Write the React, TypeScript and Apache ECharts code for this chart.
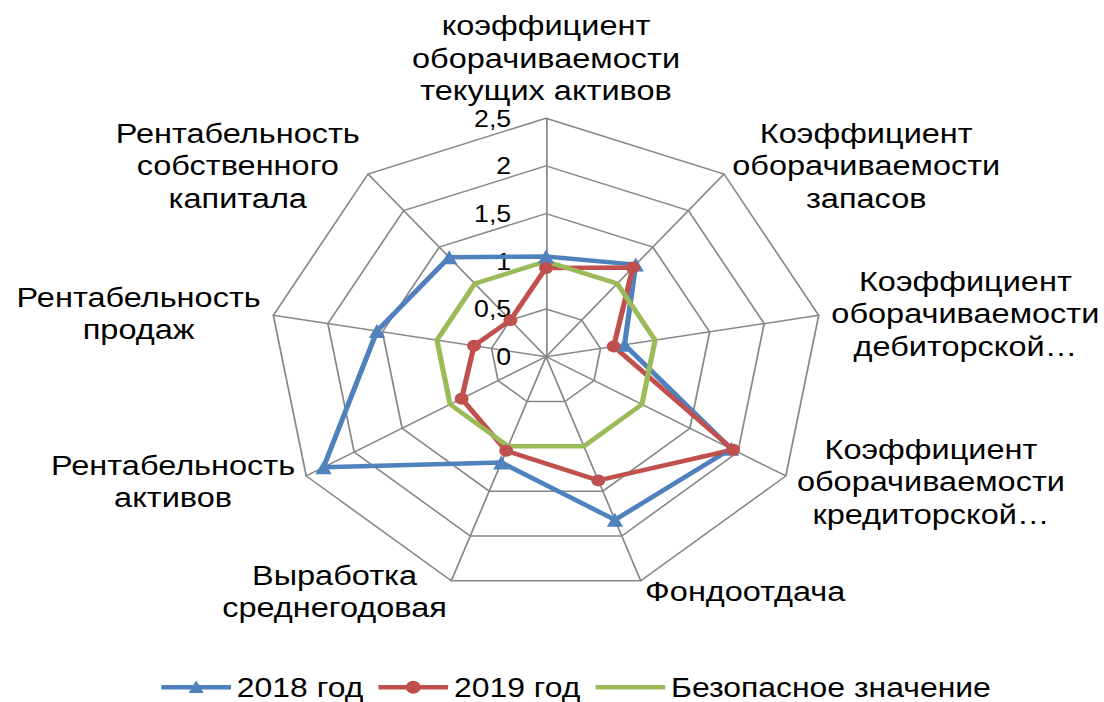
import React, { useEffect, useRef } from 'react';
import * as echarts from 'echarts';

// Categories in clockwise order starting at the top
const categories = [
  'коэффициент\nоборачиваемости\nтекущих активов',
  'Коэффициент\nоборачиваемости\nзапасов',
  'Коэффициент\nоборачиваемости\nдебиторской…',
  'Коэффициент\nоборачиваемости\nкредиторской…',
  'Фондоотдача',
  'Выработка\nсреднегодовая',
  'Рентабельность\nактивов',
  'Рентабельность\nпродаж',
  'Рентабельность\nсобственного\nкапитала',
];
const values2018 = [1.05, 1.26, 0.72, 1.93, 1.82, 1.18, 2.32, 1.55, 1.36];
const values2019 = [0.93, 1.22, 0.62, 1.95, 1.38, 1.05, 0.88, 0.66, 0.5];
const valuesSafe = [1, 1, 1, 1, 1, 1, 1, 1, 1];
const seriesNames = ['2018 год', '2019 год', 'Безопасное значение'];
const seriesColors = ['#4F81BD', '#C0504D', '#9BBB59'];
const seriesSymbols = ['triangle', 'circle', 'none'];
const axisMax = 2.5;
const tickLabels = ['0', '0,5', '1', '1,5', '2', '2,5'];

const SX = 1.161;
const W = 1104 / SX;
const H = 702;
const FONT = '"Liberation Sans", Arial, sans-serif';

// Legend icons: a line with the series marker in the middle (60 x 14 box)
const CORNERS = 'M0,0 L0.05,0 L0,0.05 Z M60,14 L59.95,14 L60,13.95 Z ';
const LINE = 'M0,5 L60,5 L60,9.5 L0,9.5 Z ';
const legendIcons = [
  'path://' + CORNERS + LINE + 'M30,0.5 L36.5,13 L23.5,13 Z',
  'path://' + CORNERS + LINE + 'M36.5,7.25 A6.5,6.5 0 1,1 23.5,7.25 A6.5,6.5 0 1,1 36.5,7.25 Z',
  'path://' + CORNERS + LINE,
];

// ECharts places radar indicators counter-clockwise; reorder to get clockwise
const ccw = <T,>(arr: T[]): T[] => [arr[0], ...arr.slice(1).reverse()];

export default function App() {
  const ref = useRef<HTMLDivElement>(null);
  useEffect(() => {
    if (!ref.current) return;
    const chart = echarts.init(ref.current, undefined, { renderer: 'svg' });
    const indicator = ccw(categories).map((name, i) => {
      const ind: any = { name, min: 0, max: axisMax };
      if (i === 0) {
        ind.axisLabel = {
          show: true,
          margin: 30,
          fontSize: 23,
          color: '#000',
          fontFamily: FONT,
          formatter: (v: number) => tickLabels[Math.round(v / (axisMax / 5))] ?? String(v),
        };
      }
      return ind;
    });
    const allValues = [values2018, values2019, valuesSafe];
    chart.setOption({
      animation: false,
      legend: {
        left: 134,
        top: 668,
        padding: 5,
        itemWidth: 60,
        itemHeight: 14,
        itemGap: 13,
        textStyle: { fontSize: 27.5, fontFamily: FONT, color: '#000' },
        data: seriesNames.map((n, k) => ({ name: n, icon: legendIcons[k] })),
      },
      radar: {
        center: [470.3, 356.7],
        radius: 238.5,
        startAngle: 90,
        splitNumber: 5,
        shape: 'polygon',
        nameGap: 11,
        indicator,
        axisName: {
          color: '#000',
          fontSize: 28,
          fontFamily: FONT,
          lineHeight: 32.5,
          formatter: (name: string) =>
            name
              .split('\n')
              .map((l) => `{c|${l}}`)
              .join('\n'),
          rich: {
            c: {
              align: 'center',
              fontSize: 28,
              lineHeight: 32.5,
              color: '#000',
              fontFamily: FONT,
            },
          },
        },
        axisLine: { lineStyle: { color: '#888888', width: 1.5 } },
        splitLine: { lineStyle: { color: '#888888', width: 1.5 } },
        splitArea: { show: false },
        axisTick: { show: false },
        axisLabel: { show: false },
      },
      series: seriesNames.map((sn, k) => ({
        type: 'radar',
        name: sn,
        symbol: seriesSymbols[k],
        symbolSize: k === 0 ? 14 : 12,
        lineStyle: { color: seriesColors[k], width: 4.5 },
        itemStyle: { color: seriesColors[k] },
        data: [{ name: sn, value: ccw(allValues[k]) }],
      })),
    });
    return () => chart.dispose();
  }, []);
  return (
    <div
      ref={ref}
      style={{
        position: 'absolute',
        left: 0,
        top: 0,
        width: W,
        height: H,
        transform: `scaleX(${SX})`,
        transformOrigin: '0 0',
        background: '#fff',
      }}
    />
  );
}
